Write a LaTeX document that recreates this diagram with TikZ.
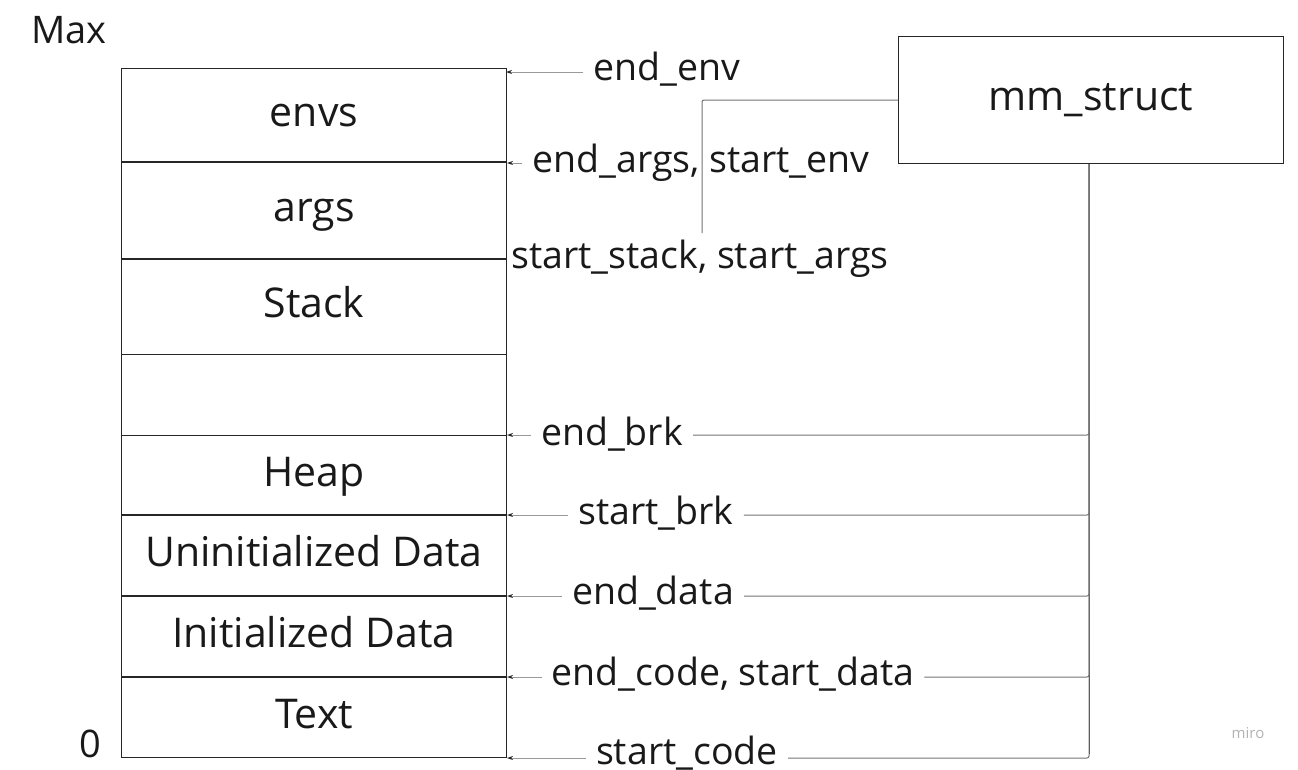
\documentclass[tikz,border=0pt]{standalone}
\usepackage{fontspec}
\setmainfont{Open Sans}
\usetikzlibrary{arrows.meta}
\begin{document}
\begin{tikzpicture}[x=1pt,y=-1pt,
  every node/.style={text=black!90},
  big/.style={font=\fontsize{41}{43}\selectfont, text height=29pt, text depth=8pt},
  cell/.style={big, draw=black!85, line width=1pt, minimum width=385pt, anchor=north west, inner xsep=0pt, inner ysep=0pt},
  lbl/.style={font=\fontsize{37.5}{40}\selectfont, inner xsep=10pt, inner ysep=0pt, anchor=base},
  ptr/.style={draw=black!40, line width=1pt, -{Stealth[length=6pt,width=4pt,color=black!85]}},
  wire/.style={draw=black!55, line width=1pt, rounded corners=2pt},
  trunk/.style={draw=black!80, line width=1pt},
  thick divider/.style={draw=black!85, line width=1.8pt}]
\useasboundingbox (0,0) rectangle (1298,769);
% memory column
\node[cell, minimum height=94pt]  (envs)  at (121,68)  {envs};
\node[cell, minimum height=97pt]  (args)  at (121,162) {args};
\node[cell, minimum height=95pt]  (stack) at (121,259) {Stack};
\node[cell, minimum height=81pt]  (gap)   at (121,354) {};
\node[cell, minimum height=80pt]  (heap)  at (121,435) {Heap};
\node[cell, minimum height=81pt]  (bss)   at (121,515) {Uninitialized Data};
\node[cell, minimum height=81pt]  (data)  at (121,596) {Initialized Data};
\node[cell, minimum height=80pt]  (text)  at (121,677) {Text};
\draw[thick divider] (args.north west) -- (args.north east);
\draw[thick divider] (stack.north west) -- (stack.north east);
\draw[thick divider] (bss.north west) -- (bss.north east);
\draw[thick divider] (data.north west) -- (data.north east);
\draw[thick divider] (text.north west) -- (text.north east);
\node[font=\fontsize{38}{40}\selectfont, anchor=base] (max)  at (69,43)  {Max};
\node[font=\fontsize{38}{40}\selectfont, anchor=base] (zero) at (90,757) {0};
\node[font=\fontsize{15}{16}\selectfont, text=black!30] (miro) at (1248,733) {miro};
% mm_struct
\node[big, draw=black!85, line width=1pt, minimum width=385pt, minimum height=127pt, anchor=north west, inner sep=0pt] (mm) at (898,36) {mm\_struct};
% labels
\node[lbl] (endenv)   at (667,80)  {end\_env};
\node[lbl] (endargs)  at (701,172) {end\_args, start\_env};
\node[lbl] (ststack)  at (700,268) {start\_stack, start\_args};
\node[lbl] (endbrk)   at (612,445) {end\_brk};
\node[lbl] (stbrk)    at (656,524) {start\_brk};
\node[lbl] (enddata)  at (653,604) {end\_data};
\node[lbl] (endcode)  at (733,685) {end\_code, start\_data};
\node[lbl] (stcode)   at (687,764) {start\_code};
\coordinate (topend) at (702,233);
\coordinate (trunkend) at (1089,757);
\coordinate (envtop) at (506,72);
% pointers
\draw[ptr] (endenv.west |- envtop)     -- (envtop);
\draw[ptr] (endargs.west |- envs.south) -- (envs.south east);
\draw[ptr] (endbrk.west |- heap.north)  -- (heap.north east);
\draw[ptr] (stbrk.west |- bss.north)    -- (bss.north east);
\draw[ptr] (enddata.west |- data.north) -- (data.north east);
\draw[ptr] (endcode.west |- text.north) -- (text.north east);
\draw[ptr] (stcode.west |- text.south)  -- (text.south east);
% wires from mm_struct
\draw[wire] (mm.west) -| (topend);
\draw[trunk] (mm.south -| trunkend) -- ([yshift=3pt]trunkend);
\draw[wire] (mm.south -| trunkend) |- (endbrk.east |- heap.north);
\draw[wire] (mm.south -| trunkend) |- (stbrk.east |- bss.north);
\draw[wire] (mm.south -| trunkend) |- (enddata.east |- data.north);
\draw[wire] (mm.south -| trunkend) |- (endcode.east |- text.north);
\draw[wire] (mm.south -| trunkend) |- (stcode.east |- text.south);
\end{tikzpicture}
\end{document}
